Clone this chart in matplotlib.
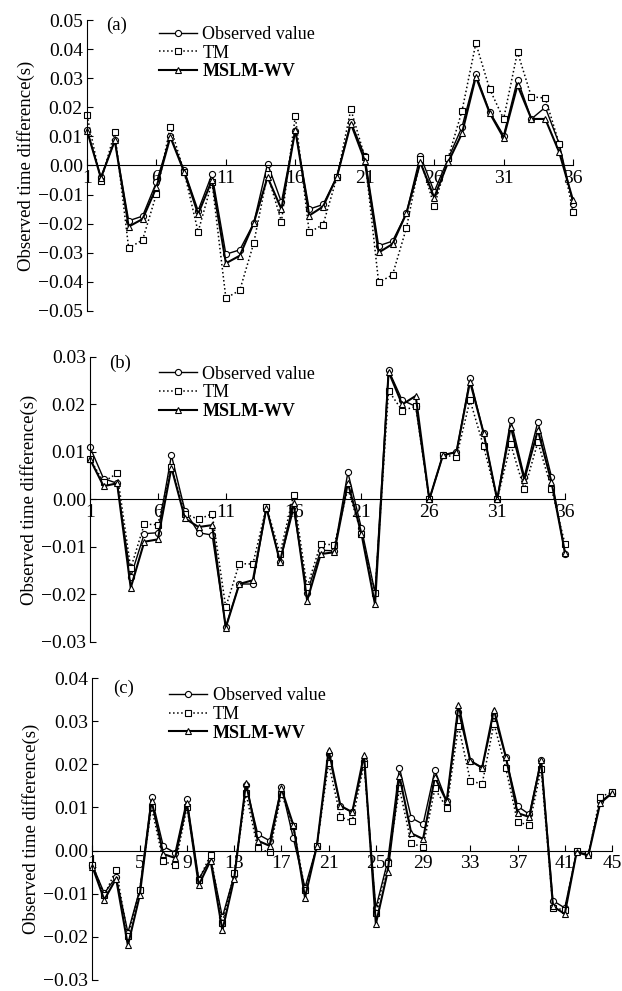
import matplotlib
matplotlib.use("Agg")
import matplotlib.pyplot as plt
import numpy as np
from matplotlib.ticker import FuncFormatter

plt.rcParams['font.family'] = ['Liberation Serif', 'DejaVu Serif']

# panel (a): 36 samples
x_a = np.arange(1, 37)
obs_a = [0.0121, -0.0040, 0.0086, -0.0190, -0.0174, -0.0057, 0.0100, -0.0017, -0.0155, -0.0030,
         -0.0305, -0.0290, -0.0199, 0.0006, -0.0126, 0.0120, -0.0150, -0.0134, -0.0038, 0.0150,
         0.0033, -0.0276, -0.0260, -0.0164, 0.0034, -0.0090, 0.0023, 0.0132, 0.0313, 0.0184,
         0.0103, 0.0295, 0.0160, 0.0200, 0.0075, -0.0132]
tm_a = [0.0172, -0.0054, 0.0115, -0.0284, -0.0256, -0.0098, 0.0134, -0.0023, -0.0228, -0.0057,
        -0.0456, -0.0429, -0.0268, -0.0030, -0.0193, 0.0170, -0.0230, -0.0203, -0.0040, 0.0193,
        0.0030, -0.0402, -0.0376, -0.0215, 0.0023, -0.0140, 0.0025, 0.0187, 0.0420, 0.0262,
        0.0160, 0.0390, 0.0236, 0.0232, 0.0075, -0.0160]
mslm_a = [0.0120, -0.0043, 0.0086, -0.0210, -0.0184, -0.0075, 0.0098, -0.0023, -0.0167, -0.0050,
          -0.0336, -0.0310, -0.0199, -0.0040, -0.0150, 0.0123, -0.0172, -0.0141, -0.0038, 0.0144,
          0.0017, -0.0299, -0.0270, -0.0164, 0.0011, -0.0110, 0.0011, 0.0110, 0.0305, 0.0180,
          0.0095, 0.0276, 0.0160, 0.0160, 0.0046, -0.0120]

# panel (b): 36 samples
x_b = np.arange(1, 37)
obs_b = [0.0110, 0.0044, 0.0034, -0.0163, -0.0072, -0.0070, 0.0093, -0.0024, -0.0070, -0.0075,
         -0.0268, -0.0178, -0.0178, -0.0017, -0.0131, -0.0020, -0.0196, -0.0107, -0.0108, 0.0057,
         -0.0061, -0.0196, 0.0272, 0.0209, 0.0196, 0.0000, 0.0093, 0.0100, 0.0255, 0.0140,
         0.0000, 0.0167, 0.0048, 0.0164, 0.0048, -0.0115]
tm_b = [0.0085, 0.0037, 0.0055, -0.0145, -0.0052, -0.0053, 0.0069, -0.0030, -0.0042, -0.0030,
        -0.0227, -0.0135, -0.0136, -0.0015, -0.0114, 0.0010, -0.0185, -0.0093, -0.0096, 0.0023,
        -0.0072, -0.0196, 0.0229, 0.0187, 0.0196, 0.0000, 0.0093, 0.0090, 0.0209, 0.0112,
        0.0000, 0.0116, 0.0021, 0.0121, 0.0023, -0.0094]
mslm_b = [0.0085, 0.0028, 0.0034, -0.0186, -0.0089, -0.0084, 0.0067, -0.0040, -0.0058, -0.0054,
          -0.0270, -0.0178, -0.0170, -0.0017, -0.0131, -0.0007, -0.0213, -0.0115, -0.0111, 0.0035,
          -0.0072, -0.0221, 0.0269, 0.0200, 0.0218, 0.0000, 0.0093, 0.0100, 0.0248, 0.0140,
          0.0000, 0.0153, 0.0042, 0.0146, 0.0037, -0.0112]

# panel (c): 45 samples
x_c = np.arange(1, 46)
obs_c = [-0.0034, -0.0099, -0.0061, -0.0190, -0.0091, 0.0124, 0.0010, -0.0005, 0.0119, -0.0066,
         -0.0019, -0.0154, -0.0057, 0.0152, 0.0038, 0.0023, 0.0148, 0.0030, -0.0086, 0.0010,
         0.0224, 0.0103, 0.0089, 0.0208, -0.0133, -0.0025, 0.0192, 0.0076, 0.0061, 0.0186,
         0.0114, 0.0322, 0.0208, 0.0192, 0.0314, 0.0218, 0.0103, 0.0084, 0.0211, -0.0116,
         -0.0133, -0.0004, -0.0008, 0.0114, 0.0133]
tm_c = [-0.0033, -0.0104, -0.0044, -0.0198, -0.0091, 0.0101, -0.0025, -0.0034, 0.0101, -0.0068,
        -0.0010, -0.0167, -0.0053, 0.0133, 0.0005, -0.0004, 0.0132, 0.0057, -0.0091, 0.0010,
        0.0203, 0.0078, 0.0068, 0.0201, -0.0144, -0.0029, 0.0144, 0.0017, 0.0008, 0.0144,
        0.0099, 0.0289, 0.0162, 0.0154, 0.0294, 0.0192, 0.0066, 0.0059, 0.0190, -0.0132,
        -0.0138, -0.0002, -0.0009, 0.0125, 0.0135]
mslm_c = [-0.0038, -0.0114, -0.0065, -0.0220, -0.0104, 0.0116, -0.0008, -0.0017, 0.0110, -0.0080,
          -0.0023, -0.0185, -0.0065, 0.0157, 0.0023, 0.0011, 0.0144, 0.0060, -0.0109, 0.0010,
          0.0233, 0.0104, 0.0089, 0.0222, -0.0170, -0.0049, 0.0173, 0.0040, 0.0027, 0.0170,
          0.0114, 0.0338, 0.0208, 0.0192, 0.0327, 0.0218, 0.0087, 0.0078, 0.0209, -0.0129,
          -0.0147, -0.0004, -0.0011, 0.0110, 0.0133]


def minus_fmt(v, pos):
    s = "%.2f" % v
    if s == "-0.00":
        s = "0.00"
    return s.replace("-", "\u2212")


def draw_panel(ax, x, obs, tm, mslm, ylim, yticks, xticks, tag, tag_y, leg_xy):
    ax.plot(x, obs, '-', color='black', lw=1.0, marker='o', ms=4.4, mfc='white',
            mec='black', mew=0.8, clip_on=False, label='Observed value')
    ax.plot(x, tm, ':', color='black', lw=1.1, marker='s', ms=4.2, mfc='white',
            mec='black', mew=0.8, clip_on=False, label='TM')
    ax.plot(x, mslm, '-', color='black', lw=1.5, marker='^', ms=4.7, mfc='white',
            mec='black', mew=0.8, clip_on=False, label='MSLM-WV')

    ax.spines['bottom'].set_position(('data', 0))
    ax.spines['top'].set_visible(False)
    ax.spines['right'].set_visible(False)
    ax.set_xlim(x[0], x[-1])
    ax.set_ylim(ylim)
    ax.set_yticks(yticks)
    ax.set_xticks(xticks)
    ax.tick_params(direction='in', length=4, width=0.8, labelsize=14, pad=3)
    ax.yaxis.set_major_formatter(FuncFormatter(minus_fmt))
    ax.set_ylabel('Observed time difference(s)', fontsize=13.5, labelpad=2)

    ax.text(0.04, tag_y, tag, transform=ax.transAxes, fontsize=13.5, va='center', ha='left')
    leg = ax.legend(loc='upper left', bbox_to_anchor=leg_xy, frameon=False, fontsize=13,
                    handlelength=2.1, handletextpad=0.3, labelspacing=0.1,
                    borderpad=0, borderaxespad=0, numpoints=1)
    for t in leg.get_texts():
        if t.get_text() == 'MSLM-WV':
            t.set_fontweight('bold')


fig = plt.figure(figsize=(6.22, 9.91), dpi=100)

ax_a = fig.add_axes([0.1399, 0.6862, 0.7814, 0.2936])
draw_panel(ax_a, x_a, obs_a, tm_a, mslm_a, (-0.05, 0.05),
           np.arange(-0.05, 0.0501, 0.01), np.arange(1, 37, 5), '(a)', 0.983, (0.148, 0.98))

ax_b = fig.add_axes([0.1447, 0.3522, 0.7637, 0.2876])
draw_panel(ax_b, x_b, obs_b, tm_b, mslm_b, (-0.03, 0.03),
           np.arange(-0.03, 0.0301, 0.01), np.arange(1, 37, 5), '(b)', 0.979, (0.145, 0.97))

ax_c = fig.add_axes([0.1487, 0.0111, 0.8352, 0.3047])
draw_panel(ax_c, x_c, obs_c, tm_c, mslm_c, (-0.03, 0.04),
           np.arange(-0.03, 0.0401, 0.01), np.arange(1, 46, 4), '(c)', 0.967, (0.148, 0.97))

fig.savefig('out.png', dpi=100)
